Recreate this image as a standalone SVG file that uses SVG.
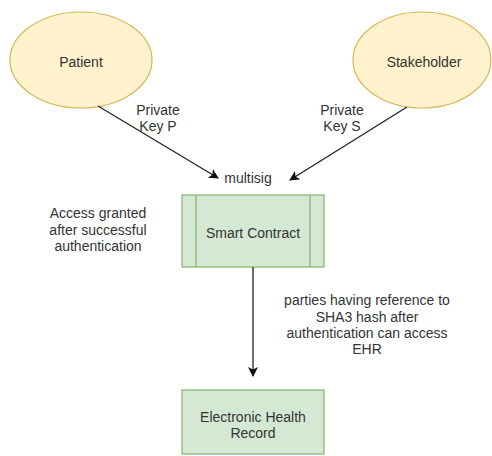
<svg xmlns="http://www.w3.org/2000/svg" width="492" height="456" viewBox="0 0 492 456">
<style>
text{font-family:"Liberation Sans",Arial,sans-serif;font-size:14px;fill:#333;text-anchor:middle}
.ell{fill:#fff2cc;stroke:#d6b656;stroke-width:1.2}
.box{fill:#d5e8d4;stroke:#82b366;stroke-width:1.2}
.edge{fill:none;stroke:#222;stroke-width:1.3}
</style>
<defs>
<marker id="arr" viewBox="0 0 10 10" refX="9" refY="5" markerWidth="10" markerHeight="10" markerUnits="userSpaceOnUse" orient="auto">
<path d="M0,0 L10,5 L0,10 L2.5,5 Z" fill="#111"/>
</marker>
</defs>
<rect width="492" height="456" fill="#fff"/>
<g id="patient">
<ellipse class="ell" cx="81" cy="60" rx="71" ry="48"/>
<text x="81" y="67">Patient</text>
</g>
<g id="stakeholder">
<ellipse class="ell" cx="422" cy="60" rx="69" ry="48"/>
<text x="424" y="67">Stakeholder</text>
</g>
<g id="smart-contract">
<rect class="box" x="182" y="195" width="142" height="72"/>
<line class="box" x1="196" y1="195" x2="196" y2="267"/>
<line class="box" x1="310" y1="195" x2="310" y2="267"/>
<text x="253" y="238">Smart Contract</text>
</g>
<g id="ehr">
<rect class="box" x="182" y="390" width="142" height="64"/>
<text x="253" y="422">Electronic Health</text>
<text x="253" y="438">Record</text>
</g>
<g id="connectors">
<line class="edge" x1="98" y1="106" x2="218" y2="178" marker-end="url(#arr)"/>
<line class="edge" x1="407" y1="107" x2="290" y2="180" marker-end="url(#arr)"/>
<line class="edge" x1="253" y1="267" x2="253" y2="376" marker-end="url(#arr)"/>
</g>
<g id="labels">
<text x="158" y="115">Private</text>
<text x="158" y="131">Key P</text>
<text x="342" y="115">Private</text>
<text x="342" y="131">Key S</text>
<text x="248" y="183">multisig</text>
<text x="98" y="218">Access granted</text>
<text x="98" y="235">after successful</text>
<text x="98" y="251">authentication</text>
<text x="367" y="305">parties having reference to</text>
<text x="367" y="322">SHA3 hash after</text>
<text x="367" y="338">authentication can access</text>
<text x="367" y="354">EHR</text>
</g>
</svg>
